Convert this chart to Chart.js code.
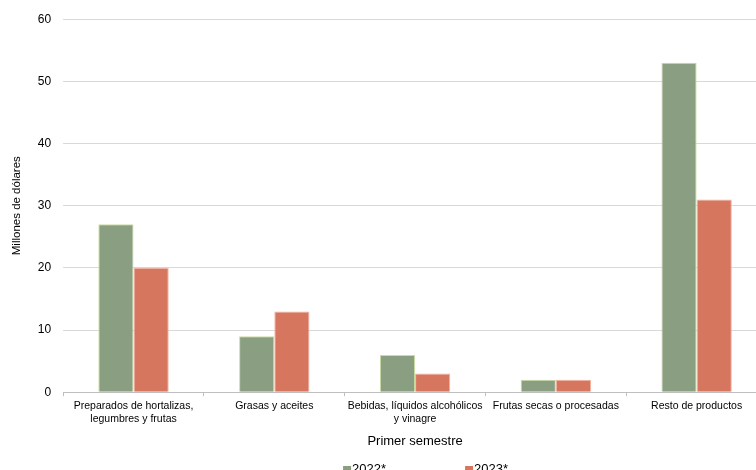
<!DOCTYPE html>
<html>
<head>
<meta charset="utf-8">
<script src="https://cdn.jsdelivr.net/npm/chart.js@4/dist/chart.umd.min.js"></script>
<style>
  html, body { margin: 0; padding: 0; overflow: hidden; background: #fff; }
  #wrap { width: 767px; height: 478px; }
</style>
</head>
<body>
<div id="wrap"><canvas id="chart"></canvas></div>
<script>
const categorias = [
    ["Preparados de hortalizas,", "legumbres y frutas"],
    "Grasas y aceites",
    ["Bebidas, líquidos alcohólicos", "y vinagre"],
    "Frutas secas o procesadas",
    "Resto de productos"
];
const valores2022 = [27, 9, 6, 2, 53];
const valores2023 = [20, 13, 3, 2, 31];
const ticksY = [0, 10, 20, 30, 40, 50, 60];

Chart.defaults.font.family = "'Liberation Sans', Arial, sans-serif";
Chart.defaults.color = "#000";

// leyenda simple debajo del título del eje x
const leyenda = {
    id: "leyenda",
    afterDraw(chart) {
        const ctx = chart.ctx;
        const area = chart.chartArea;
        const y = chart.height - 9;
        let x = (area.left + area.right) / 2 - 72;
        ctx.save();
        ctx.font = "13px 'Liberation Sans', Arial, sans-serif";
        ctx.textBaseline = "middle";
        chart.data.datasets.forEach((ds) => {
            ctx.fillStyle = ds.backgroundColor;
            ctx.fillRect(x, y - 3, 8, 8);
            ctx.fillStyle = "#000";
            ctx.fillText(ds.label, x + 9, y);
            x += 122;
        });
        ctx.restore();
    }
};

new Chart(document.getElementById("chart"), {
    type: "bar",
    data: {
        labels: categorias,
        datasets: [
            {
                label: "2022*",
                data: valores2022,
                backgroundColor: "#8a9f82",
                borderColor: "#cadc9f",
                borderWidth: 1,
                categoryPercentage: 0.5,
                barPercentage: 1.0
            },
            {
                label: "2023*",
                data: valores2023,
                backgroundColor: "#d7765e",
                borderColor: "#f0b4a2",
                borderWidth: 1,
                categoryPercentage: 0.5,
                barPercentage: 1.0
            }
        ]
    },
    options: {
        responsive: true,
        maintainAspectRatio: false,
        animation: false,
        layout: { padding: { top: 13, left: 10, right: 0, bottom: 25 } },
        plugins: {
            legend: { display: false },
            tooltip: { enabled: false }
        },
        scales: {
            x: {
                grid: {
                    offset: true,
                    drawOnChartArea: false,
                    drawTicks: true,
                    tickLength: 4,
                    color: "#bfbfbf"
                },
                border: { color: "#bfbfbf" },
                ticks: {
                    autoSkip: false,
                    maxRotation: 0,
                    padding: 4,
                    font: { size: 10.5 }
                },
                title: {
                    display: true,
                    text: "Primer semestre",
                    font: { size: 13 },
                    padding: { top: 4, bottom: 4 }
                }
            },
            y: {
                min: 0,
                max: 60,
                afterBuildTicks: (axis) => { axis.ticks = ticksY.map(v => ({ value: v })); },
                grid: {
                    color: "#d9d9d9",
                    drawTicks: false
                },
                border: { display: false },
                ticks: {
                    padding: 12,
                    font: { size: 12 }
                },
                title: {
                    display: true,
                    text: "Millones de dólares",
                    font: { size: 11.5 },
                    padding: { top: 0, bottom: 2 }
                }
            }
        }
    },
    plugins: [leyenda]
});
</script>
</body>
</html>
